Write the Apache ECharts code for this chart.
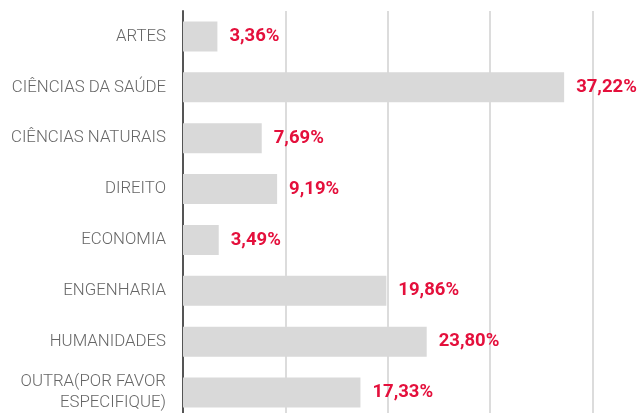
<!DOCTYPE html>
<html>
<head>
<meta charset="utf-8">
<script src="https://cdn.jsdelivr.net/npm/echarts@6/dist/echarts.min.js"></script>
<style>
  html, body { margin: 0; padding: 0; background: #fff; }
  #main { width: 640px; height: 413px; }
</style>
</head>
<body>
<div id="main"></div>
<script>
const categories = ['ARTES', 'CIÊNCIAS DA SAÚDE', 'CIÊNCIAS NATURAIS', 'DIREITO', 'ECONOMIA', 'ENGENHARIA', 'HUMANIDADES', 'OUTRA(POR FAVOR\nESPECIFIQUE)'];
const percentages = [3.36, 37.22, 7.69, 9.19, 3.49, 19.86, 23.80, 17.33];

let myChart = echarts.init(document.getElementById('main'));
let option = {
  animation: false,
  grid: {
    left: 183,
    top: 11,
    width: 409.6,
    height: 407,
    outerBoundsMode: 'none'
  },
  xAxis: {
    type: 'value',
    min: 0,
    max: 40,
    interval: 10,
    axisLabel: { show: false },
    axisLine: { show: false },
    axisTick: { show: false },
    splitLine: { lineStyle: { color: '#dcdcdc', width: 2 } }
  },
  yAxis: {
    type: 'category',
    inverse: true,
    data: categories,
    axisTick: { show: false },
    axisLine: { lineStyle: { color: '#555', width: 2 } },
    axisLabel: {
      color: '#666',
      fontFamily: 'Roboto',
      fontWeight: 300,
      fontSize: 16.8,
      margin: 17,
      lineHeight: 21,
      align: 'right'
    }
  },
  series: [
    {
      type: 'bar',
      data: percentages,
      barWidth: 30,
      itemStyle: { color: '#d9d9d9' },
      label: {
        show: true,
        position: 'right',
        distance: 12,
        color: '#e4103c',
        fontFamily: 'Roboto',
        fontWeight: 'bold',
        fontSize: 18.5,
        formatter: p => p.value.toFixed(2).replace('.', ',') + '%'
      }
    }
  ]
};
myChart.setOption(option);
</script>
</body>
</html>
